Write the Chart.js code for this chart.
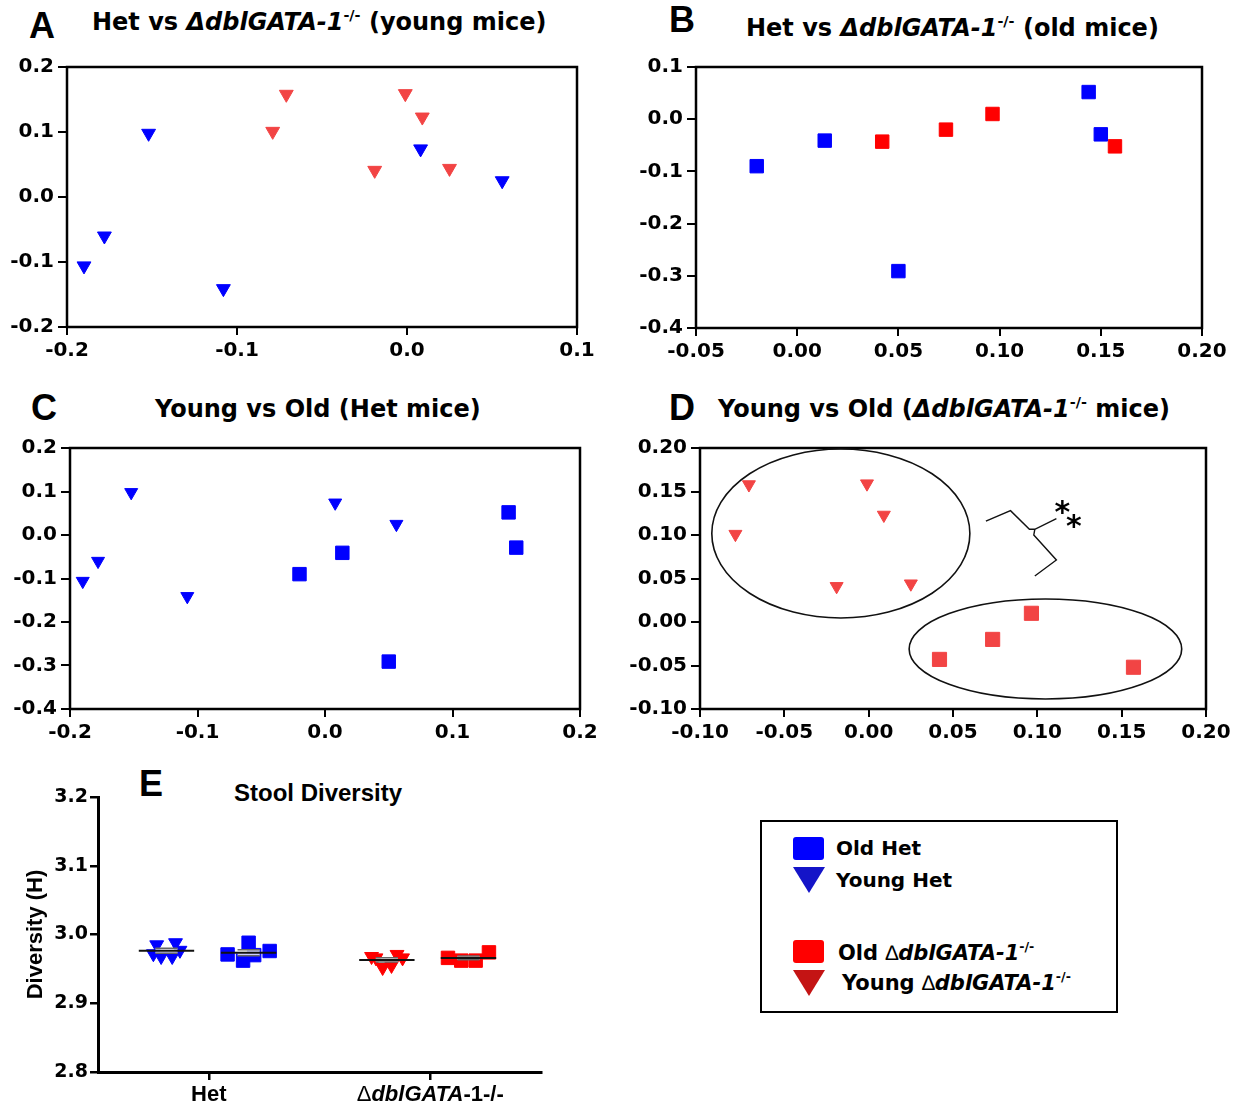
<!DOCTYPE html>
<html>
<head>
<meta charset="utf-8">
<script src="https://cdn.jsdelivr.net/npm/chart.js@4.4.0/dist/chart.umd.min.js"></script>
<style>
body { margin: 0; background: #fff; }
#page { position: relative; width: 1246px; height: 1106px; overflow: hidden; background: #fff; }
canvas { position: absolute; }
.t { position: absolute; white-space: nowrap; transform: translateY(-50%); line-height: 1; color: #000; }
.dv { font-family: "DejaVu Sans"; font-weight: bold; font-size: 24px; }
.let { font-family: "Liberation Sans"; font-weight: bold; font-size: 36px; }
.ar { font-family: "Liberation Sans"; font-weight: bold; font-size: 24px; }
.lg { font-family: "DejaVu Sans"; font-weight: bold; font-size: 20px; }
.lg2 { font-size: 21px; }
.thin { font-family: "Liberation Sans"; font-weight: normal; font-style: normal; }
sup { font-size: 0.6em; vertical-align: 0.7em; line-height: 0; }
#legend { position: absolute; left: 760px; top: 820px; width: 354px; height: 189px; border: 2px solid #000; }
.sq { position: absolute; width: 31px; height: 23px; border-radius: 3px; }
.tri { position: absolute; width: 0; height: 0; border-left: 16px solid transparent; border-right: 16px solid transparent; }
</style>
</head>
<body>
<div id="page">
  <div class="t let" style="left:29px;top:26px">A</div>
  <div class="t dv" style="left:92px;top:22px">Het vs <i>ΔdblGATA-1</i><sup>-/-</sup> (young mice)</div>
  <div class="t let" style="left:669px;top:20px">B</div>
  <div class="t dv" style="left:746px;top:28px">Het vs <i>ΔdblGATA-1</i><sup>-/-</sup> (old mice)</div>
  <div class="t let" style="left:31px;top:408px">C</div>
  <div class="t dv" style="left:155px;top:409px">Young vs Old (Het mice)</div>
  <div class="t let" style="left:669px;top:408px">D</div>
  <div class="t dv" style="left:718px;top:409px">Young vs Old (<i>ΔdblGATA-1</i><sup>-/-</sup> mice)</div>
  <div class="t let" style="left:139px;top:784px">E</div>
  <div class="t ar" style="left:234px;top:793px">Stool Diversity</div>

  <canvas id="chartA"></canvas>
  <canvas id="chartB"></canvas>
  <canvas id="chartC"></canvas>
  <canvas id="chartD"></canvas>
  <canvas id="chartE"></canvas>

  <div id="legend"></div>
  <div class="sq" style="left:793px;top:837px;background:#0000ff"></div>
  <div class="tri" style="left:793px;top:867px;border-top:26px solid #1414c8"></div>
  <div class="sq" style="left:793px;top:940px;background:#ff0000"></div>
  <div class="tri" style="left:793px;top:970px;border-top:26px solid #c41414"></div>
  <div class="t lg" style="left:836px;top:848px">Old Het</div>
  <div class="t lg" style="left:836px;top:880px">Young Het</div>
  <div class="t lg lg2" style="left:838px;top:953px">Old <span class="thin">∆</span><i>dblGATA-1</i><sup>-/-</sup></div>
  <div class="t lg lg2" style="left:842px;top:983px">Young <span class="thin">∆</span><i>dblGATA-1</i><sup>-/-</sup></div>
</div>
<script>
// PCoA coordinates (young mice = triangles, old mice = squares)
const youngHetX = [-0.190, -0.178, -0.152, -0.108, 0.008, 0.056];
const youngHetY = [-0.106, -0.060, 0.098, -0.141, 0.074, 0.025];
const youngKoX = [-0.079, -0.071, -0.019, -0.001, 0.009, 0.025];
const youngKoY = [0.101, 0.158, 0.041, 0.159, 0.123, 0.044];
const oldHetX = [-0.020, 0.0136, 0.050, 0.144, 0.150];
const oldHetY = [-0.090, -0.041, -0.291, 0.052, -0.029];
const oldKoX = [0.042, 0.0735, 0.0965, 0.157];
const oldKoY = [-0.043, -0.020, 0.010, -0.052];

// axis ticks per panel
const ticksAx = [-0.2, -0.1, 0.0, 0.1];
const ticksAy = [-0.2, -0.1, 0.0, 0.1, 0.2];
const ticksBx = [-0.05, 0.00, 0.05, 0.10, 0.15, 0.20];
const ticksBy = [-0.4, -0.3, -0.2, -0.1, 0.0, 0.1];
const ticksCx = [-0.2, -0.1, 0.0, 0.1, 0.2];
const ticksCy = [-0.4, -0.3, -0.2, -0.1, 0.0, 0.1, 0.2];
const ticksDx = [-0.10, -0.05, 0.00, 0.05, 0.10, 0.15, 0.20];
const ticksDy = [-0.10, -0.05, 0.00, 0.05, 0.10, 0.15, 0.20];

// stool diversity (Shannon H) and horizontal jitter of each mouse
const groupLabels = ['Het', 'ΔdblGATA-1-/-'];
const groupTicks = [1, 3];
const divYoungHet = [2.972, 2.985, 2.968, 2.968, 2.988, 2.977];
const divYoungHetPos = [0.50, 0.53, 0.57, 0.67, 0.70, 0.74];
const divOldHet = [2.971, 2.962, 2.988, 2.970, 2.976];
const divOldHetPos = [1.17, 1.31, 1.36, 1.41, 1.55];
const divYoungKo = [2.968, 2.966, 2.952, 2.955, 2.971, 2.966];
const divYoungKoPos = [2.47, 2.51, 2.57, 2.65, 2.70, 2.75];
const divOldKo = [2.966, 2.962, 2.962, 2.974];
const divOldKoPos = [3.16, 3.28, 3.41, 3.53];
const ticksEy = [2.8, 2.9, 3.0, 3.1, 3.2];

const BLUE = '#0000ff';
const RED = '#f24444';
const RED_B = '#ff0000';

const pts = (xs, ys) => xs.map((x, i) => ({ x: x, y: ys[i] }));

function tri(label, data, color, r) {
  return { label, data, pointStyle: 'triangle', pointRotation: 180, pointRadius: r || 8,
    backgroundColor: color, borderColor: color, borderWidth: 1 };
}
function sq(label, data, color, r) {
  return { label, data, pointStyle: 'rect', pointRadius: r || 9.5,
    backgroundColor: color, borderColor: color, borderWidth: 1 };
}

const tickFont = { family: 'DejaVu Sans', weight: 'bold', size: 20 };

const framePlugin = {
  id: 'frame',
  beforeDatasetsDraw(chart) {
    const { ctx, chartArea: a } = chart;
    ctx.save();
    ctx.strokeStyle = '#000';
    ctx.lineWidth = 2.5;
    ctx.strokeRect(a.left, a.top, a.right - a.left, a.bottom - a.top);
    ctx.restore();
  }
};

// clusters + significance bracket on panel D (in data units)
const clusterEllipses = [
  { cx: -0.0165, cy: 0.1017, rx: 0.0765, ry: 0.0971 },
  { cx: 0.1048, cy: -0.031, rx: 0.0808, ry: 0.0575 }
];
const bracePaths = [
  [[0.0695, 0.116], [0.0841, 0.128], [0.0953, 0.1066], [0.0985, 0.1066], [0.1113, 0.1187]],
  [[0.0985, 0.1066], [0.0979, 0.100], [0.1113, 0.0713], [0.0985, 0.0529]]
];
const starPos = [[0.1136, 0.1307], [0.1205, 0.1153]];

const clusterPlugin = {
  id: 'clusters',
  afterDatasetsDraw(chart) {
    const { ctx, scales: { x, y } } = chart;
    ctx.save();
    ctx.strokeStyle = '#111';
    ctx.lineWidth = 1.6;
    clusterEllipses.forEach(e => {
      const cx = x.getPixelForValue(e.cx), cy = y.getPixelForValue(e.cy);
      const rx = Math.abs(x.getPixelForValue(e.cx + e.rx) - cx);
      const ry = Math.abs(y.getPixelForValue(e.cy + e.ry) - cy);
      ctx.beginPath();
      ctx.ellipse(cx, cy, rx, ry, 0, 0, Math.PI * 2);
      ctx.stroke();
    });
    ctx.lineWidth = 1.4;
    bracePaths.forEach(p => {
      ctx.beginPath();
      p.forEach((q, i) => {
        const px = x.getPixelForValue(q[0]), py = y.getPixelForValue(q[1]);
        if (i === 0) ctx.moveTo(px, py); else ctx.lineTo(px, py);
      });
      ctx.stroke();
    });
    ctx.fillStyle = '#000';
    ctx.font = 'bold 30px "DejaVu Sans"';
    ctx.textAlign = 'center';
    ctx.textBaseline = 'alphabetic';
    starPos.forEach(s => {
      ctx.fillText('*', x.getPixelForValue(s[0]) + 2, y.getPixelForValue(s[1]) + 14);
    });
    ctx.restore();
  }
};

function scatterPanel(id, box, xTicks, yTicks, xDec, yDec, datasets, extra) {
  const cv = document.getElementById(id);
  const padL = 75, padT = 15, padR = 35, padB = 45;
  cv.width = box.r - box.l + padL + padR;
  cv.height = box.b - box.t + padT + padB;
  cv.style.left = (box.l - padL) + 'px';
  cv.style.top = (box.t - padT) + 'px';
  return new Chart(cv, {
    type: 'scatter',
    data: { datasets },
    options: {
      responsive: false,
      animation: false,
      clip: false,
      layout: { padding: { left: 0, top: padT, right: padR, bottom: 0 } },
      plugins: { legend: { display: false }, tooltip: { enabled: false } },
      scales: {
        x: {
          type: 'linear', min: xTicks[0], max: xTicks[xTicks.length - 1],
          afterBuildTicks: s => { s.ticks = xTicks.map(v => ({ value: v })); },
          afterFit: s => { s.height = padB; s.paddingLeft = 0; s.paddingRight = 0; },
          border: { display: false },
          grid: { drawOnChartArea: false, color: '#000', lineWidth: 2, tickLength: 8 },
          ticks: { color: '#000', font: tickFont, padding: 4, maxRotation: 0, autoSkip: false,
            callback: v => v.toFixed(xDec) }
        },
        y: {
          type: 'linear', min: yTicks[0], max: yTicks[yTicks.length - 1],
          afterBuildTicks: s => { s.ticks = yTicks.map(v => ({ value: v })); },
          afterFit: s => { s.width = padL; s.paddingTop = 0; s.paddingBottom = 0; },
          border: { display: false },
          grid: { drawOnChartArea: false, color: '#000', lineWidth: 2, tickLength: 9 },
          ticks: { color: '#000', font: tickFont, padding: 4, autoSkip: false,
            callback: v => v.toFixed(yDec) }
        }
      }
    },
    plugins: [framePlugin].concat(extra || [])
  });
}

scatterPanel('chartA', { l: 67, t: 67, r: 577, b: 327 }, ticksAx, ticksAy, 1, 1, [
  tri('Young Het', pts(youngHetX, youngHetY), BLUE),
  tri('Young ΔdblGATA-1-/-', pts(youngKoX, youngKoY), RED)
]);
scatterPanel('chartB', { l: 696, t: 67, r: 1202, b: 328 }, ticksBx, ticksBy, 2, 1, [
  sq('Old Het', pts(oldHetX, oldHetY), BLUE),
  sq('Old ΔdblGATA-1-/-', pts(oldKoX, oldKoY), RED_B)
]);
scatterPanel('chartC', { l: 70, t: 448, r: 580, b: 709 }, ticksCx, ticksCy, 1, 1, [
  tri('Young Het', pts(youngHetX, youngHetY), BLUE, 7.5),
  sq('Old Het', pts(oldHetX, oldHetY), BLUE)
]);
scatterPanel('chartD', { l: 700, t: 448, r: 1206, b: 709 }, ticksDx, ticksDy, 2, 2, [
  tri('Young ΔdblGATA-1-/-', pts(youngKoX, youngKoY), RED, 7.5),
  sq('Old ΔdblGATA-1-/-', pts(oldKoX, oldKoY), RED, 10)
], [clusterPlugin]);

// ---- panel E: diversity dot plot with mean +/- SEM ----
function drawRich(ctx, segs, cx, cy) {
  let w = 0;
  segs.forEach(s => { ctx.font = s.font; w += ctx.measureText(s.t).width; });
  let x = cx - w / 2;
  segs.forEach(s => {
    ctx.font = s.font;
    ctx.fillText(s.t, x, cy);
    x += ctx.measureText(s.t).width;
  });
}

const meanSemPlugin = {
  id: 'meanSem',
  afterDatasetsDraw(chart) {
    const { ctx, scales: { x, y } } = chart;
    ctx.save();
    chart.data.datasets.forEach(ds => {
      const ys = ds.data.map(p => p.y), xs = ds.data.map(p => p.x);
      const n = ys.length;
      const m = ys.reduce((a, b) => a + b, 0) / n;
      const sd = Math.sqrt(ys.reduce((a, b) => a + (b - m) * (b - m), 0) / (n - 1));
      const sem = sd / Math.sqrt(n);
      const xc = xs.reduce((a, b) => a + b, 0) / n;
      const px = x.getPixelForValue(xc), py = y.getPixelForValue(m);
      const lo = y.getPixelForValue(m - sem), hi = y.getPixelForValue(m + sem);
      const cap = x.getPixelForValue(xc + 0.1) - px;
      ctx.strokeStyle = '#666';
      ctx.lineWidth = 1.5;
      ctx.fillStyle = 'rgba(255,255,255,0.8)';
      ctx.fillRect(px - cap, hi, cap * 2, lo - hi);
      ctx.beginPath();
      ctx.moveTo(px - cap, hi); ctx.lineTo(px + cap, hi);
      ctx.moveTo(px - cap, lo); ctx.lineTo(px + cap, lo);
      ctx.stroke();
      const half = x.getPixelForValue(xc + 0.25) - px;
      ctx.strokeStyle = '#111';
      ctx.lineWidth = 2;
      ctx.beginPath();
      ctx.moveTo(px - half, py); ctx.lineTo(px + half, py);
      ctx.stroke();
    });
    ctx.restore();
  },
  afterDraw(chart) {
    const { ctx, scales: { x }, chartArea } = chart;
    ctx.save();
    ctx.fillStyle = '#000';
    ctx.textBaseline = 'middle';
    const yy = chartArea.bottom + 23;
    drawRich(ctx, [{ t: groupLabels[0], font: 'bold 22px "Liberation Sans"' }],
      x.getPixelForValue(groupTicks[0]), yy);
    drawRich(ctx, [
      { t: groupLabels[1].slice(0, 1), font: '22px "Liberation Sans"' },
      { t: groupLabels[1].slice(1, 8), font: 'italic bold 22px "Liberation Sans"' },
      { t: groupLabels[1].slice(8), font: 'bold 22px "Liberation Sans"' }
    ], x.getPixelForValue(groupTicks[1]), yy);
    ctx.restore();
  }
};

(function () {
  const cv = document.getElementById('chartE');
  cv.width = 560; cv.height = 330;
  cv.style.left = '0px'; cv.style.top = '777px';
  new Chart(cv, {
    type: 'scatter',
    data: {
      datasets: [
        tri('Young Het', pts(divYoungHetPos, divYoungHet), BLUE, 8),
        sq('Old Het', pts(divOldHetPos, divOldHet), BLUE, 9.5),
        tri('Young ΔdblGATA-1-/-', pts(divYoungKoPos, divYoungKo), RED_B, 8),
        sq('Old ΔdblGATA-1-/-', pts(divOldKoPos, divOldKo), RED_B, 9.5)
      ]
    },
    options: {
      responsive: false,
      animation: false,
      clip: false,
      layout: { padding: { left: 0, top: 20, right: 19, bottom: 0 } },
      plugins: { legend: { display: false }, tooltip: { enabled: false } },
      scales: {
        x: {
          type: 'linear', min: 0, max: 4,
          afterBuildTicks: s => { s.ticks = groupTicks.map(v => ({ value: v })); },
          afterFit: s => { s.height = 35; s.paddingLeft = 0; s.paddingRight = 0; },
          border: { display: true, color: '#000', width: 3 },
          grid: { drawOnChartArea: false, color: '#000', lineWidth: 2.5, tickLength: 8 },
          ticks: { callback: () => '', autoSkip: false }
        },
        y: {
          type: 'linear', min: 2.8, max: 3.2,
          afterBuildTicks: s => { s.ticks = ticksEy.map(v => ({ value: v })); },
          afterFit: s => { s.width = 98; s.paddingTop = 0; s.paddingBottom = 0; },
          border: { display: true, color: '#000', width: 3 },
          grid: { drawOnChartArea: false, color: '#000', lineWidth: 2.5, tickLength: 8 },
          title: { display: true, text: 'Diversity (H)', color: '#000',
            font: { family: 'Liberation Sans', weight: 'bold', size: 22 },
            padding: { top: 23, bottom: 0 } },
          ticks: { color: '#000', font: { family: 'DejaVu Sans', weight: 'bold', size: 19 },
            padding: 2, autoSkip: false, callback: v => v.toFixed(1) }
        }
      }
    },
    plugins: [meanSemPlugin]
  });
})();
</script>
</body>
</html>
